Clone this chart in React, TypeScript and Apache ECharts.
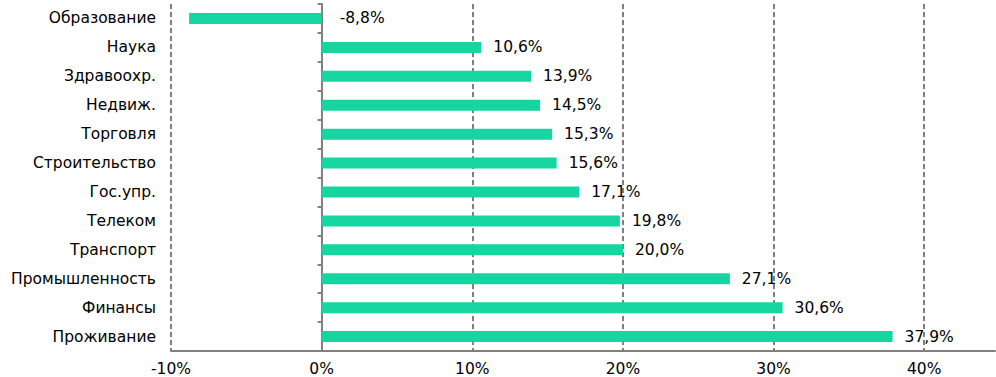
import React, { useEffect, useRef } from "react";
import * as echarts from "echarts";

const categories = [
  "Образование",
  "Наука",
  "Здравоохр.",
  "Недвиж.",
  "Торговля",
  "Строительство",
  "Гос.упр.",
  "Телеком",
  "Транспорт",
  "Промышленность",
  "Финансы",
  "Проживание",
];
const values = [-8.8, 10.6, 13.9, 14.5, 15.3, 15.6, 17.1, 19.8, 20.0, 27.1, 30.6, 37.9];
const xTicks = [-10, 0, 10, 20, 30, 40];

const FONT = "Verdana, 'DejaVu Sans', sans-serif";
const FS = 15.5;
const GREY = "#808080";
const BAR = "#17D5A0";

const fmt = (v: number) => v.toFixed(1).replace(".", ",") + "%";

export default function App() {
  const ref = useRef<HTMLDivElement>(null);
  useEffect(() => {
    if (!ref.current) return;
    const chart = echarts.init(ref.current, undefined, { renderer: "svg" });
    chart.setOption({
      animation: false,
      grid: { left: 171, right: 1, top: 4, bottom: 25, containLabel: false },
      xAxis: {
        type: "value",
        min: xTicks[0],
        max: 44.7,
        interval: 10,
        axisLine: { show: true, lineStyle: { color: GREY, width: 2 } },
        axisTick: { show: false },
        axisLabel: {
          color: "#000",
          fontFamily: FONT,
          fontSize: FS,
          margin: 10,
          showMaxLabel: false,
          formatter: (v: number) => (xTicks.includes(Math.round(v * 10) / 10) ? v + "%" : ""),
        },
        splitLine: {
          show: true,
          showMinLine: true,
          showMaxLine: false,
          lineStyle: { color: GREY, type: [5, 3], width: 2 },
        },
      },
      yAxis: [
        {
          type: "category",
          data: categories,
          inverse: true,
          axisLine: { show: true, onZero: true, lineStyle: { color: GREY, width: 2 } },
          axisTick: { show: true, length: 4, lineStyle: { color: GREY, width: 2 } },
          axisLabel: { show: false },
          splitLine: { show: false },
        },
        {
          type: "category",
          data: categories,
          inverse: true,
          position: "left",
          axisLine: { show: false, onZero: false },
          axisTick: { show: false },
          axisLabel: { show: true, color: "#000", fontFamily: FONT, fontSize: FS, margin: 15 },
          splitLine: { show: false },
        },
      ],
      series: [
        {
          type: "bar",
          yAxisIndex: 0,
          data: values,
          barWidth: 11,
          itemStyle: { color: BAR },
          label: { show: false },
          z: 3,
        },
        {
          type: "bar",
          yAxisIndex: 0,
          barGap: "-100%",
          barWidth: 11,
          data: values.map((v) => ({
            value: Math.max(v, 0),
            label: { distance: v < 0 ? 18 : 12 },
          })),
          itemStyle: { color: "rgba(0,0,0,0)" },
          label: {
            show: true,
            position: "right",
            color: "#000",
            fontFamily: FONT,
            fontSize: FS,
            formatter: (p: any) => fmt(values[p.dataIndex]),
          },
          silent: true,
          z: 4,
        },
      ],
    });
    return () => chart.dispose();
  }, []);
  return (
    <div
      ref={ref}
      style={{ position: "absolute", left: 0, top: 0, width: 996, height: 377 }}
    />
  );
}
